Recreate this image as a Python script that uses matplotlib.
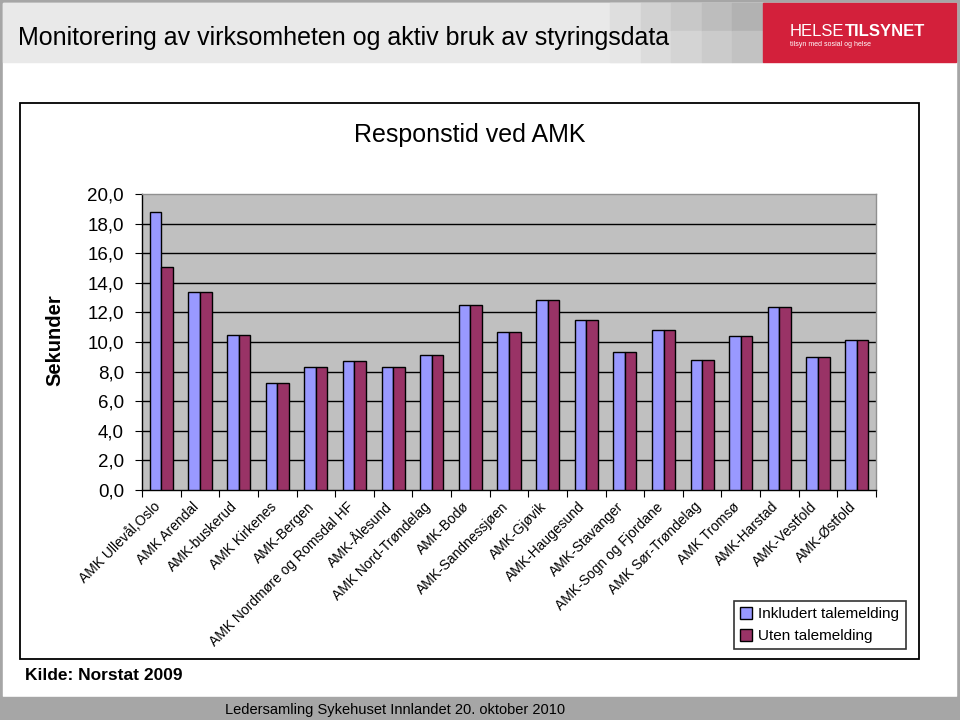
import matplotlib.pyplot as plt
import matplotlib.patches as mpatches
import matplotlib.transforms as mtransforms
import numpy as np

# ----------------------------
# Data
# ----------------------------
CATEGORIES = [
    "AMK Ullevål,Oslo", "AMK Arendal", "AMK-buskerud", "AMK Kirkenes",
    "AMK-Bergen", "AMK Nordmøre og Romsdal HF", "AMK-Ålesund",
    "AMK Nord-Trøndelag", "AMK-Bodø", "AMK-Sandnessjøen", "AMK-Gjøvik",
    "AMK-Haugesund", "AMK-Stavanger", "AMK-Sogn og Fjordane",
    "AMK Sør-Trøndelag", "AMK Tromsø", "AMK-Harstad", "AMK-Vestfold",
    "AMK-Østfold",
]
INKLUDERT = [18.8, 13.4, 10.5, 7.2, 8.3, 8.7, 8.3, 9.1, 12.5, 10.65,
             12.85, 11.5, 9.3, 10.8, 8.8, 10.4, 12.35, 9.0, 10.15]
UTEN = [15.1, 13.4, 10.5, 7.2, 8.3, 8.7, 8.3, 9.1, 12.5, 10.65,
        12.85, 11.5, 9.3, 10.8, 8.8, 10.4, 12.35, 9.0, 10.15]
Y_TICKS = np.arange(0, 21, 2)

BLUE = "#9999ff"
PLUM = "#993366"
FONT = "Liberation Sans"

fig = plt.figure(figsize=(9.6, 7.2), dpi=100)
fig.patch.set_facecolor("#a6a6a6")

# ----------------------------
# Slide background, header, footer
# ----------------------------
bg = fig.add_axes([0, 0, 1, 1])
bg.set_xlim(0, 960)
bg.set_ylim(720, 0)
bg.axis("off")
bg.add_patch(mpatches.Rectangle((3, 3), 953, 693, color="white", zorder=0))
bg.add_patch(mpatches.Rectangle((3, 3), 760, 59, color="#e9e9e9", zorder=1))
top_row = ["#dedede", "#d2d2d2", "#c8c8c8", "#bdbdbd", "#b2b2b2"]
low_row = ["#e6e6e6", "#dcdcdc", "#d4d4d4", "#cbcbcb", "#c2c2c2"]
for i, (ct, cl) in enumerate(zip(top_row, low_row)):
    x0 = 610 + i * 30.6
    bg.add_patch(mpatches.Rectangle((x0, 3), 30.6, 28, color=ct, zorder=1))
    bg.add_patch(mpatches.Rectangle((x0, 31), 30.6, 31, color=cl, zorder=1))
bg.add_patch(mpatches.Rectangle((763, 3), 193, 59, color="#d3203b", zorder=2))
t1 = bg.text(790, 36, "HELSE", color="white", fontsize=12, family=FONT,
             va="baseline", ha="left", zorder=3)
bg.annotate("TILSYNET", xy=(1, 0), xycoords=t1, va="bottom", ha="left",
            color="white", fontsize=12, fontweight="bold", family=FONT, zorder=3)
bg.text(790, 45, "tilsyn med sosial og helse", color="white", fontsize=5,
        family=FONT, va="center", ha="left", zorder=3)
bg.text(18, 38, "Monitorering av virksomheten og aktiv bruk av styringsdata",
        fontsize=18, family=FONT, va="center", ha="left", zorder=3)
bg.add_patch(mpatches.Rectangle((0, 697), 960, 23, color="#a6a6a6", zorder=1))
bg.text(395, 710, "Ledersamling Sykehuset Innlandet 20. oktober 2010",
        fontsize=10.5, family=FONT, va="center", ha="center", zorder=3)

# chart frame
bg.add_patch(mpatches.Rectangle((20, 103), 899, 556, fill=False, edgecolor="black",
                                linewidth=1.3, zorder=2))
bg.text(470, 135, "Responstid ved AMK", fontsize=18, family=FONT,
        va="center", ha="center", zorder=3)
bg.text(55, 340, "Sekunder", fontsize=14.5, fontweight="bold", family=FONT,
        rotation=90, va="center", ha="center", zorder=3)
bg.text(25, 675, "Kilde: Norstat 2009", fontsize=12.5, fontweight="bold",
        family=FONT, va="center", ha="left", zorder=3)

# ----------------------------
# Bar chart
# ----------------------------
ax = fig.add_axes([142 / 960, 1 - 490 / 720, 734 / 960, 296 / 720])
ax.set_facecolor("#c0c0c0")
x = np.arange(len(CATEGORIES))
w = 0.3
ax.bar(x - w / 2, INKLUDERT, w, color=BLUE, edgecolor="black", linewidth=1,
       label="Inkludert talemelding", zorder=3)
ax.bar(x + w / 2, UTEN, w, color=PLUM, edgecolor="black", linewidth=1,
       label="Uten talemelding", zorder=3)

ax.set_xlim(-0.5, len(CATEGORIES) - 0.5)
ax.set_ylim(0, 20)
ax.set_yticks(Y_TICKS)
ax.set_yticklabels([f"{v:.1f}".replace(".", ",") for v in Y_TICKS],
                   fontsize=13.5, family=FONT)
for v in Y_TICKS[1:-1]:
    ax.axhline(v, color="black", linewidth=1, zorder=1)

ax.set_xticks(np.arange(-0.5, len(CATEGORIES), 1), minor=False)
ax.set_xticklabels([])
ax.set_xticks(x, minor=True)
ax.set_xticklabels(CATEGORIES, minor=True, rotation=45, ha="right",
                   rotation_mode="anchor", fontsize=10, family=FONT)
ax.tick_params(axis="x", which="minor", length=0, pad=7)
ax.tick_params(axis="x", which="major", length=5, direction="out", color="black")
ax.tick_params(axis="y", length=5, direction="out", color="black", pad=8)

# nudge category labels left like the original
shift = mtransforms.ScaledTranslation(-8 / 100, 0, fig.dpi_scale_trans)
for lbl in ax.get_xticklabels(minor=True):
    lbl.set_transform(lbl.get_transform() + shift)

for s in ["top", "right"]:
    ax.spines[s].set_color("#909090")
    ax.spines[s].set_linewidth(1)
for s in ["left", "bottom"]:
    ax.spines[s].set_color("black")
    ax.spines[s].set_linewidth(1)

leg = fig.legend(loc="upper left", bbox_to_anchor=(734 / 960, 1 - 601 / 720),
                 frameon=True, fancybox=False, edgecolor="black",
                 prop={"family": FONT, "size": 11},
                 handlelength=0.8, handleheight=0.8, handletextpad=0.4,
                 borderpad=0.4, labelspacing=0.5, borderaxespad=0)
leg.get_frame().set_linewidth(1.2)

fig.savefig("out.png", dpi=100, facecolor=fig.get_facecolor())
